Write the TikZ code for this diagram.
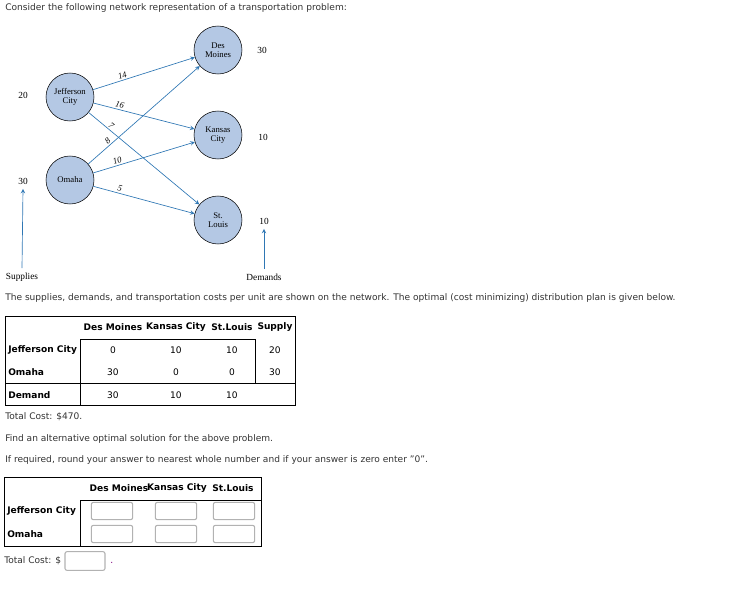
\documentclass[tikz,border=0pt]{standalone}
\usepackage{fontspec}
\setmainfont{DejaVu Sans}
\newfontfamily\netfont{Liberation Serif}
\usetikzlibrary{positioning}
\definecolor{netblue}{HTML}{2F77B4}
\definecolor{cityfill}{HTML}{B4C8E4}
\definecolor{bodytext}{HTML}{333333}
\tikzset{
  city/.style={circle, draw=black, fill=cityfill, minimum size=36pt, inner sep=0pt,
    align=center, font=\netfont\fontsize{6.5}{6.5}\selectfont},
  route/.style={->, >=stealth, netblue, line width=0.5pt},
  cost/.style={font=\netfont\itshape\fontsize{6.5}{6.5}\selectfont, text=black, sloped, above, inner sep=1pt},
  qty/.style={font=\netfont\fontsize{7}{7}\selectfont},
  body/.style={anchor=west, text=bodytext, font=\fontsize{6.8}{7.5}\selectfont, inner sep=0pt},
  cell/.style={font=\fontsize{6.8}{7.5}\selectfont, inner sep=0pt},
  head/.style={font=\bfseries\fontsize{6.8}{7.5}\selectfont, inner sep=0pt},
  rowhead/.style={head, anchor=west},
  inbox/.style={draw=gray!60, rounded corners=1.5pt, line width=0.8pt, minimum width=31pt, minimum height=13pt}
}
\begin{document}
\begin{tikzpicture}[x=0.75pt,y=-0.75pt]
    \useasboundingbox (0,0) rectangle (733,600);
    \node[body] (intro) at (5,8) {Consider the following network representation of a transportation problem:};

    % Network
    \node[city] (jc) at (70,97) {Jefferson\\City};
    \node[city] (om) at (70,180) {Omaha};
    \node[city] (dm) at (218,50) {Des\\Moines};
    \node[city] (kc) at (218,135) {Kansas\\City};
    \node[city] (sl) at (218,220) {St.\\Louis};
    \draw[route] (jc) -- node[cost, pos=0.3] {14} (dm);
    \draw[route] (jc) -- node[cost, pos=0.25] {16} (kc);
    \draw[route] (jc) -- node[cost, pos=0.18] {7} (sl);
    \draw[route] (om) -- node[cost, pos=0.2] {8} (dm);
    \draw[route] (om) -- node[cost, pos=0.25] {10} (kc);
    \draw[route] (om) -- node[cost, pos=0.25] {5} (sl);

    % Supplies and demands
    \node[qty] (sjc) at (23,95) {20};
    \node[qty] (som) at (23,181) {30};
    \node[qty] (ddm) at (262,50) {30};
    \node[qty] (dkc) at (263,137) {10};
    \node[qty] (dsl) at (264,221) {10};
    \node[qty] (sup) at (22,277) {Supplies};
    \node[qty] (dem) at (264,277) {Demands};
    \draw[route] (sup.north) -- (som.south);
    \draw[route] (dem.north) -- (dsl.south);

    \node[body] (given) at (5,298) {The supplies, demands, and transportation costs per unit are shown on the network. The optimal (cost minimizing) distribution plan is given below.};

    % Optimal plan table
    \draw (5,316) rectangle (295,405);
    \draw (80,405) -- (80,339) -- (255,339) -- (255,383);
    \draw (5,383) -- (295,383);
    \node[head] (h1) at (113,327) {Des Moines};
    \node[head] (h2) at (176,327) {Kansas City};
    \node[head] (h3) at (232,327) {St.Louis};
    \node[head] (h4) at (275,327) {Supply};
    \node[rowhead] (r1) at (8,350) {Jefferson City};
    \node[rowhead] (r2) at (8,372) {Omaha};
    \node[rowhead] (r3) at (8,395) {Demand};
    \foreach \x/\a/\b/\c in {113/0/30/30, 176/10/0/10, 232/10/0/10} {
        \node[cell] at (\x,350) {\a};
        \node[cell] at (\x,372) {\b};
        \node[cell] at (\x,395) {\c};
    }
    \node[cell] at (275,350) {20};
    \node[cell] at (275,372) {30};

    \node[body] (cost) at (5,417) {Total Cost: \$470.};
    \node[body] (find) at (5,439) {Find an alternative optimal solution for the above problem.};
    \node[body] (round) at (5,460) {If required, round your answer to nearest whole number and if your answer is zero enter "0".};

    % Answer table
    \draw (4,477) rectangle (261,546);
    \draw (80,546) -- (80,500) -- (261,500);
    \node[head] (a1) at (119,488) {Des Moines};
    \node[head] (a2) at (177,488) {Kansas City};
    \node[head] (a3) at (233,488) {St.Louis};
    \node[rowhead] (b1) at (7,511) {Jefferson City};
    \node[rowhead] (b2) at (7,534) {Omaha};
    \foreach \x in {112,176,234} {
        \node[inbox] at (\x,511) {};
        \node[inbox] at (\x,534) {};
    }
    \node[body] (tc) at (4,561) {Total Cost: \$};
    \node[inbox, minimum width=30pt, minimum height=14pt] (tcbox) at (85,561) {};
    \node[body, text=violet] at (110,563) {.};
\end{tikzpicture}
\end{document}
